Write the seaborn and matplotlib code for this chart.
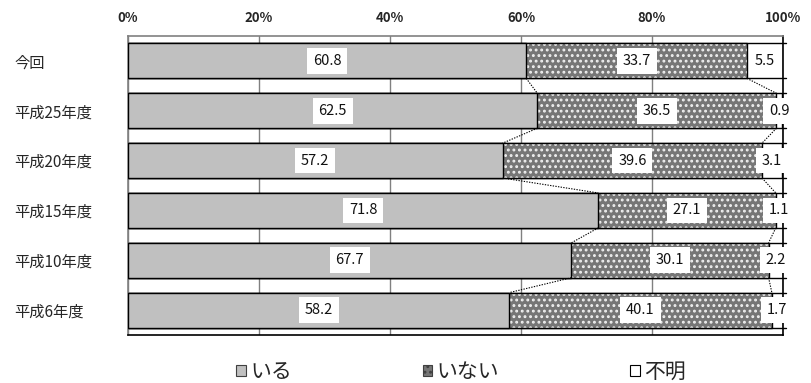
import matplotlib
matplotlib.use("Agg")
import matplotlib.pyplot as plt
from matplotlib.patches import Patch
import numpy as np
import pandas as pd
import seaborn as sns

# Survey results by year (percent)
categories = ["今回", "平成25年度", "平成20年度", "平成15年度", "平成10年度", "平成6年度"]
iru = [60.8, 62.5, 57.2, 71.8, 67.7, 58.2]       # いる
inai = [33.7, 36.5, 39.6, 27.1, 30.1, 40.1]      # いない
fumei = [5.5, 0.9, 3.1, 1.1, 2.2, 1.7]           # 不明
series_names = ["いる", "いない", "不明"]
xtick_labels = ["0%", "20%", "40%", "60%", "80%", "100%"]

sns.set_theme(style="white")
plt.rcParams["font.family"] = ["Noto Sans CJK JP", "DejaVu Sans"]
plt.rcParams["hatch.linewidth"] = 1.3

df = pd.DataFrame({"cat": categories, "iru": iru, "inai": inai, "fumei": fumei})
df["c1"] = df["iru"]
df["c2"] = df["iru"] + df["inai"]
df["c3"] = df["c2"] + df["fumei"]

fig = plt.figure(figsize=(8.12, 3.83), dpi=100)
ax = fig.add_axes([128 / 812, 1 - 335 / 383, (783 - 128) / 812, (335 - 36) / 383])

gray = "#c0c0c0"
dark = "#767676"
bar_w = 0.7

# Stack by overlaying cumulative totals, longest first
sns.barplot(data=df, x="c3", y="cat", orient="h", color="white", edgecolor="black",
            linewidth=1.0, width=bar_w, saturation=1, ax=ax, zorder=2)
sns.barplot(data=df, x="c2", y="cat", orient="h", color=dark, edgecolor="#f0f0f0",
            linewidth=0, hatch="...", width=bar_w, saturation=1, ax=ax, zorder=3)
sns.barplot(data=df, x="c2", y="cat", orient="h", fill=False, edgecolor="black",
            linewidth=1.0, width=bar_w, ax=ax, zorder=4)
sns.barplot(data=df, x="c1", y="cat", orient="h", color=gray, edgecolor="black",
            linewidth=1.0, width=bar_w, saturation=1, ax=ax, zorder=5)

ypos = np.arange(len(categories))
half = bar_w / 2

# Series lines linking segment boundaries of adjacent bars
for cols in ["c1", "c2"]:
    vals = df[cols].values
    for i in range(len(vals) - 1):
        ax.plot([vals[i], vals[i + 1]], [ypos[i] + half, ypos[i + 1] - half],
                ls=(0, (1.2, 1.2)), color="black", lw=0.8, zorder=6)

# Value labels in white boxes, centred on each segment
box = dict(boxstyle="square,pad=0.4", fc="white", ec="none")
for i in range(len(categories)):
    starts = [0, df["c1"][i], df["c2"][i]]
    widths = [iru[i], inai[i], fumei[i]]
    for s, w in zip(starts, widths):
        ax.text(s + w / 2, ypos[i], f"{w:.1f}", ha="center", va="center",
                fontsize=10.5, color="#111111", bbox=box, zorder=7, clip_on=False)

ax.set_xlim(0, 100)
ax.set_ylim(len(categories) - 0.5, -0.5)
ax.set_xticks([0, 20, 40, 60, 80, 100])
ax.set_xticklabels(xtick_labels)
ax.xaxis.tick_top()
ax.tick_params(axis="x", length=0, pad=8, labelsize=9.5)
ax.set_yticks(ypos)
ax.set_yticklabels(categories, ha="left")
ax.tick_params(axis="y", length=0, pad=82, labelsize=11)
ax.set_xlabel("")
ax.set_ylabel("")
for lbl in ax.get_xticklabels():
    lbl.set_fontweight("bold")

ax.grid(axis="x", color="#808080", lw=1.0, zorder=0)
ax.set_axisbelow(True)
for side in ["left", "top"]:
    ax.spines[side].set_color("#808080")
    ax.spines[side].set_linewidth(1.2)
for side in ["right", "bottom"]:
    ax.spines[side].set_color("black")
    ax.spines[side].set_linewidth(1.2)

# Short marks on the right edge at each bar's top and bottom
for y in ypos:
    for yb in (y - half, y + half):
        ax.plot([100, 100.45], [yb, yb], color="black", lw=1.0, clip_on=False, zorder=8)

handles = [
    Patch(facecolor=gray, edgecolor="#404040", lw=0.8),
    Patch(facecolor=dark, edgecolor="#404040", lw=0.8, hatch="..."),
    Patch(facecolor="white", edgecolor="black", lw=0.8),
]
fig.legend(handles, series_names, loc="center", bbox_to_anchor=(461 / 812, 1 - 372 / 383),
           ncol=3, frameon=False, fontsize=15, handlelength=0.45, handleheight=0.45,
           handletextpad=0.2, columnspacing=6.3)

fig.savefig("out.png", dpi=100)
